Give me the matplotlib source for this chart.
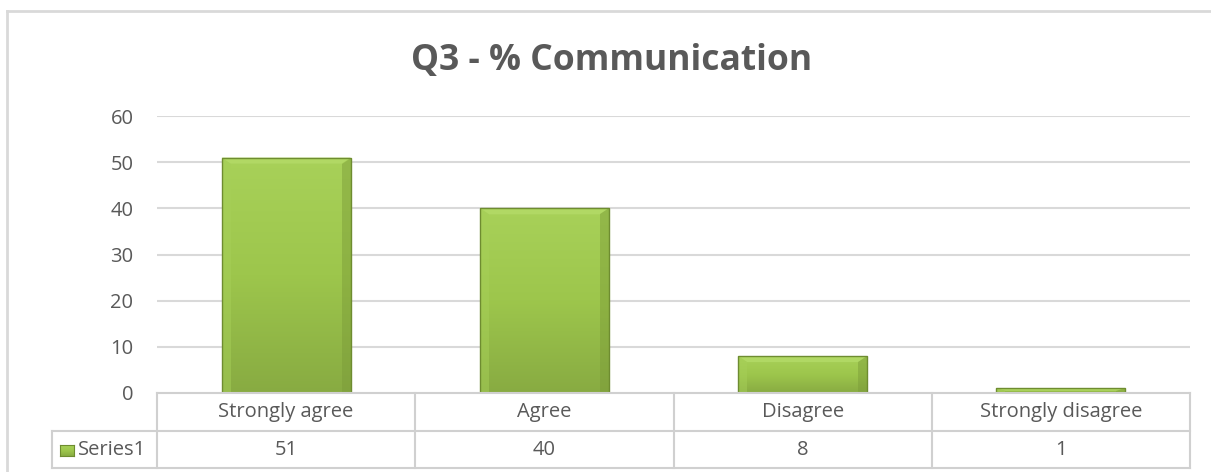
import matplotlib
matplotlib.use("Agg")
import matplotlib.pyplot as plt
import numpy as np
from matplotlib.lines import Line2D
from matplotlib.patches import Rectangle, Polygon
from matplotlib.transforms import blended_transform_factory
from matplotlib.colors import LinearSegmentedColormap

categories = ["Strongly agree", "Agree", "Disagree", "Strongly disagree"]
values = [51, 40, 8, 1]
series_name = "Series1"
yticks = [0, 10, 20, 30, 40, 50, 60]
title = "Q3 - % Communication"

W, H = 1211, 472
plt.rcParams['font.family'] = ['Open Sans', 'DejaVu Sans']
TXT = "#595959"
GRID = "#d9d9d9"
FS = 14.5

fig = plt.figure(figsize=(W / 100, H / 100), dpi=100)

def fx(px):
    return px / W

def fy(py):
    return 1 - py / H

ax = fig.add_axes([fx(157), fy(393), fx(1190) - fx(157), fy(116) - fy(393)])
ax.set_xlim(-0.5, len(categories) - 0.5)
ax.set_ylim(0, 60)
for s in ax.spines.values():
    s.set_visible(False)
ax.set_xticks([])
ax.set_yticks(yticks)
ax.tick_params(axis='y', length=0, pad=17, labelsize=FS, labelcolor=TXT)
for t in yticks[1:]:
    ax.axhline(t, color=GRID, lw=1.5, zorder=0)

cmap = LinearSegmentedColormap.from_list("g", ["#88ab42", "#9dc64c", "#a8d159"])
grad = np.linspace(0, 1, 256).reshape(-1, 1)
bw = 0.5
bx = 0.035
by = 60 * 6 / 277
for i, v in enumerate(values):
    x0 = i - bw / 2
    im = ax.imshow(grad, cmap=cmap, origin='lower', aspect='auto',
                   extent=(x0, x0 + bw, 0, v), zorder=2)
    rect = Rectangle((x0, 0), bw, v, facecolor='none', edgecolor='#6e8c30', lw=1.0, zorder=4)
    ax.add_patch(rect)
    im.set_clip_path(rect)
    hy = min(by, v / 2)
    hx = min(bx, bw / 2)
    top = Polygon([(x0, v), (x0 + bw, v), (x0 + bw - hx, v - hy), (x0 + hx, v - hy)],
                  closed=True, facecolor='#b4db68', edgecolor='none', alpha=0.8, zorder=3)
    right = Polygon([(x0 + bw, v), (x0 + bw, 0), (x0 + bw - hx, 0), (x0 + bw - hx, v - hy)],
                    closed=True, facecolor='#7a9a38', edgecolor='none', alpha=0.45, zorder=3)
    left = Polygon([(x0, v), (x0, 0), (x0 + hx, 0), (x0 + hx, v - hy)],
                   closed=True, facecolor='#a6cf58', edgecolor='none', alpha=0.5, zorder=3)
    for p in (top, right, left):
        ax.add_patch(p)
ax.set_xlim(-0.5, len(categories) - 0.5)
ax.set_ylim(0, 60)

fig.text(fx(612), fy(61), title, ha='center', va='center', fontsize=25.5,
         fontweight='bold', color=TXT)

# outer chart border
fig.add_artist(Line2D([fx(7), fx(7)], [fy(11), fy(472)], color=GRID, lw=2))
fig.add_artist(Line2D([fx(7), fx(1211)], [fy(11), fy(11)], color=GRID, lw=2))

# data table
bt = blended_transform_factory(ax.transData, fig.transFigure)
TL = "#d0d0d0"
fig.add_artist(Line2D([fx(157), fx(1190)], [fy(393), fy(393)], color=TL, lw=1.5))
fig.add_artist(Line2D([fx(52), fx(1190)], [fy(431), fy(431)], color=TL, lw=1.5))
fig.add_artist(Line2D([fx(52), fx(1190)], [fy(468), fy(468)], color=TL, lw=1.5))
fig.add_artist(Line2D([fx(52), fx(52)], [fy(431), fy(468)], color=TL, lw=1.5))
for b in np.arange(-0.5, len(categories), 1.0):
    fig.add_artist(Line2D([b, b], [fy(393), fy(468)], color=TL, lw=1.5, transform=bt))
for i, (c, v) in enumerate(zip(categories, values)):
    fig.text(i, fy(412), c, transform=bt, ha='center', va='center', fontsize=FS, color=TXT)
    fig.text(i, fy(450), str(v), transform=bt, ha='center', va='center', fontsize=FS, color=TXT)

# legend key
kax = fig.add_axes([fx(60), fy(456), fx(74) - fx(60), fy(445) - fy(456)])
kax.imshow(grad, cmap=cmap, origin='lower', aspect='auto', extent=(0, 1, 0, 1))
kax.set_xticks([]); kax.set_yticks([])
for s in kax.spines.values():
    s.set_color('#6e8c30'); s.set_linewidth(0.8)
fig.text(fx(78), fy(450), series_name, ha='left', va='center', fontsize=FS, color=TXT)

fig.savefig("out.png", dpi=100)
